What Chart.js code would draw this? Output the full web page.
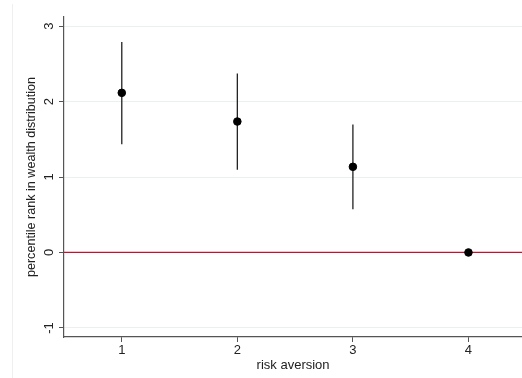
<!DOCTYPE html>
<html>
<head>
<meta charset="utf-8">
<script src="https://cdn.jsdelivr.net/npm/chart.js@4/dist/chart.umd.min.js"></script>
<style>
  html, body { margin: 0; padding: 0; background: #fff; overflow: hidden; }
  #clip { width: 522px; height: 378px; overflow: hidden; }
  #wrap { width: 527px; height: 378px; position: relative; }
</style>
</head>
<body>
<div id="clip"><div id="wrap"><canvas id="chart"></canvas></div></div>
<script>
// risk aversion categories and estimates
const categories = [1, 2, 3, 4];
const estimates = [2.115, 1.735, 1.135, 0];
const ciLow = [1.435, 1.095, 0.573, null];
const ciHigh = [2.79, 2.37, 1.695, null];
const xTicks = [1, 2, 3, 4];
const yTicks = [-1, 0, 1, 2, 3];

const FONT = '"Liberation Sans", Arial, sans-serif';

// vertical CI lines, zero reference line, rotated y tick labels
const extras = {
  id: 'extras',
  beforeDatasetsDraw(chart) {
    const { ctx, chartArea, scales: { x, y } } = chart;
    // zero line
    ctx.save();
    ctx.strokeStyle = '#c8102e';
    ctx.lineWidth = 1.3;
    ctx.beginPath();
    ctx.moveTo(chartArea.left, y.getPixelForValue(0));
    ctx.lineTo(chartArea.right + 10, y.getPixelForValue(0));
    ctx.stroke();

    // confidence intervals
    ctx.strokeStyle = '#222';
    ctx.lineWidth = 1.3;
    categories.forEach((c, i) => {
      if (ciLow[i] == null) return;
      const px = x.getPixelForValue(c);
      ctx.beginPath();
      ctx.moveTo(px, y.getPixelForValue(ciLow[i]));
      ctx.lineTo(px, y.getPixelForValue(ciHigh[i]));
      ctx.stroke();
    });
    ctx.restore();
  },
  afterDraw(chart) {
    const { ctx, scales: { y } } = chart;
    ctx.save();
    ctx.fillStyle = '#222';
    ctx.font = '13px ' + FONT;
    ctx.textAlign = 'center';
    ctx.textBaseline = 'middle';
    yTicks.forEach(v => {
      ctx.save();
      ctx.translate(49, y.getPixelForValue(v));
      ctx.rotate(-Math.PI / 2);
      ctx.fillText(String(v), 0, 0);
      ctx.restore();
    });
    // faint outer frame of the graph region
    ctx.strokeStyle = '#eef0f0';
    ctx.lineWidth = 1;
    ctx.beginPath();
    ctx.moveTo(12.5, 4);
    ctx.lineTo(12.5, 378);
    ctx.stroke();
    ctx.restore();
  }
};

new Chart(document.getElementById('chart'), {
  type: 'scatter',
  data: {
    datasets: [{
      data: categories.map((c, i) => ({ x: c, y: estimates[i] })),
      backgroundColor: '#000',
      borderColor: '#000',
      pointRadius: 3.8,
      pointHoverRadius: 3.8
    }]
  },
  options: {
    responsive: true,
    maintainAspectRatio: false,
    animation: false,
    layout: { padding: { top: 17, right: 0, left: 0, bottom: 0 } },
    plugins: {
      legend: { display: false },
      tooltip: { enabled: false }
    },
    scales: {
      x: {
        type: 'linear',
        min: 0.5,
        max: 4.465,
        afterBuildTicks: s => { s.ticks = xTicks.map(v => ({ value: v })); },
        afterFit: s => { s.height = 41; },
        border: { color: '#555', width: 1.2 },
        grid: { drawOnChartArea: false, drawTicks: true, tickLength: 5, tickColor: '#555' },
        ticks: { color: '#222', padding: 1, font: { family: FONT, size: 13 } },
        title: {
          display: true,
          text: 'risk aversion',
          color: '#222',
          font: { family: FONT, size: 13 },
          padding: { top: 0, bottom: 5 }
        }
      },
      y: {
        min: -1.12,
        max: 3.12,
        afterBuildTicks: s => { s.ticks = yTicks.map(v => ({ value: v })); },
        afterFit: s => { s.width = 64; },
        border: { color: '#555', width: 1.2 },
        grid: { color: '#eaf0f0', lineWidth: 1, drawTicks: true, tickLength: 5, tickColor: '#555' },
        ticks: { display: false },
        title: {
          display: true,
          text: 'percentile rank in wealth distribution',
          color: '#222',
          font: { family: FONT, size: 12.6 },
          padding: { top: 24, bottom: 0 }
        }
      }
    }
  },
  plugins: [extras]
});
</script>
</body>
</html>
